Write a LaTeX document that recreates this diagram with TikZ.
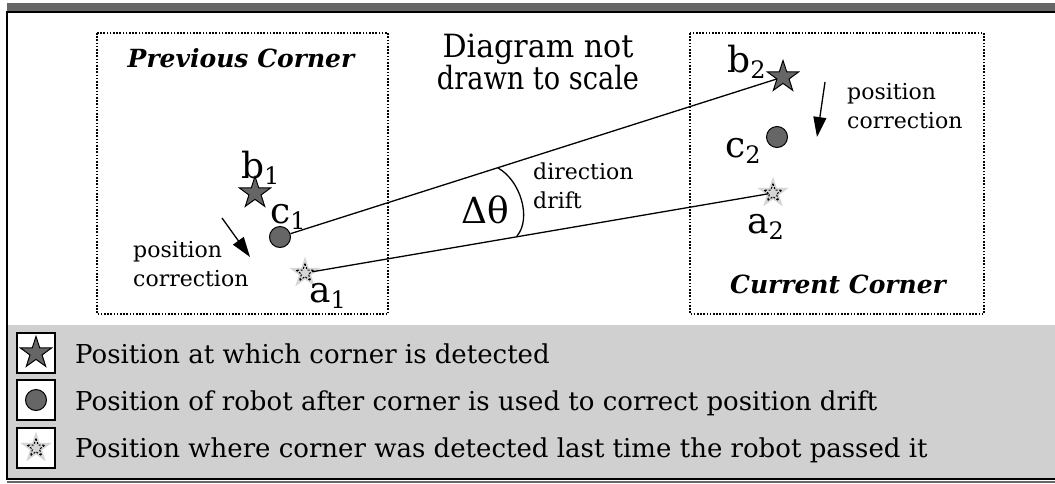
\documentclass[tikz,border=0pt]{standalone}
\usepackage{fontspec}
\setmainfont{DejaVu Serif}
\usetikzlibrary{shapes.geometric,arrows.meta}
\definecolor{dg}{HTML}{666666}
\definecolor{lg}{HTML}{D0D0D0}
\definecolor{sg}{HTML}{D6D6D6}
\newcommand\subs[1]{\raisebox{-6pt}{\fontsize{24}{24}\selectfont #1}}
\begin{document}
\begin{tikzpicture}[x=1pt,y=-1pt,
 cornerbox/.style={draw, line width=1.3pt, dash pattern=on 1.6pt off 1.6pt},
 darkstar/.style={star, star points=5, star point ratio=2.6, minimum size=33pt, inner sep=0pt, draw=black, line width=1pt, fill=dg},
 lightstar/.style={star, star points=5, star point ratio=2.6, minimum size=33pt, inner sep=0pt, fill=sg},
 innerstar/.style={star, star points=5, star point ratio=2.6, minimum size=19pt, inner sep=0pt, draw=black, line width=1pt, dash pattern=on 2pt off 1.5pt},
 robot/.style={circle, minimum size=21pt, inner sep=0pt, draw=black, line width=1pt, fill=dg},
 lbl/.style={font=\fontsize{36}{38}\selectfont, inner sep=0pt, anchor=base west},
 note/.style={font=\fontsize{22}{28.5}\selectfont, align=left, inner sep=0pt, anchor=west},
 title/.style={font=\fontsize{25}{28}\selectfont\bfseries\itshape, inner sep=0pt},
 legtext/.style={font=\fontsize{26}{28}\selectfont, anchor=base west, inner sep=0pt},
 legbox/.style={draw=black, line width=1.8pt, fill=white, minimum width=38pt, minimum height=40pt, inner sep=0pt},
 conn/.style={line width=1.3pt},
 corr/.style={line width=1.3pt, -{Triangle[length=20pt,width=13pt]}},
]
\useasboundingbox (0,0) rectangle (1055,483);
\fill[white] (0,0) rectangle (1055,483);
% frame
\fill[dg] (7,3) rectangle (1055,11);
\fill[lg] (7,325) rectangle (1055,478);
\draw[line width=2pt] (1055,12) -- (7,12) -- (7,479) -- (1055,479);
\fill[dg] (7,481) rectangle (1055,483);
% corner boxes
\draw[cornerbox] (97,33) rectangle (388,314);
\draw[cornerbox] (690,33) rectangle (984,314);
\node[title] (prev) at (241,58) {Previous Corner};
\node[title] (curr) at (838,284) {Current Corner};
\node[font=\fontsize{32}{32}\selectfont, align=center, inner sep=0pt] (scale) at (538,62) {\scalebox{0.94}[1]{Diagram not}\\\scalebox{0.85}[1]{drawn to scale}};
% previous corner
\node[darkstar] (b1) at (255,193) {};
\node[robot] (c1) at (280,237) {};
\node[lightstar] (a1) at (305,273) {};
\node[innerstar] (a1i) at (a1) {};
\node[lbl] (lb1) at (241,178) {b\subs{1}};
\node[lbl] (lc1) at (270,223) {c\subs{1}};
\node[lbl] (la1) at (309,302) {a\subs{1}};
\node[note] (pc1) at (133,264) {position\\correction};
\coordinate (ar1s) at (222,218);
\coordinate (ar1e) at (250,257);
\draw[corr] (ar1s) -- (ar1e);
% current corner
\node[darkstar] (b2) at (783,77) {};
\node[robot] (c2) at (777,137) {};
\node[lightstar] (a2) at (773,193) {};
\node[innerstar] (a2i) at (a2) {};
\node[lbl] (lb2) at (727,72) {b\subs{2}};
\node[lbl] (lc2) at (725,157) {c\subs{2}};
\node[lbl] (la2) at (747,233) {a\subs{2}};
\node[note] (pc2) at (847,106) {position\\correction};
\coordinate (ar2s) at (825,82);
\coordinate (ar2e) at (817,137);
\draw[corr] (ar2s) -- (ar2e);
% connectors
\draw[conn] (c1) -- (b2);
\draw[conn] (a1i) -- (a2i);
\coordinate (arcA) at (498,168);
\coordinate (arcB) at (517,236);
\draw[conn] (arcA) .. controls (520,180) and (532,218) .. (arcB);
\node[lbl] (dth) at (461,223) {Δθ};
\node[note] (dd) at (533,186) {direction\\drift};
% legend
\node[legbox] (k1) at (36,353) {};
\node[darkstar] (k1s) at (k1) {};
\node[legbox] (k2) at (36,400) {};
\node[robot] (k2c) at (k2) {};
\node[legbox] (k3) at (36,448) {};
\node[lightstar] (k3s) at (k3) {};
\node[innerstar] (k3i) at (k3) {};
\node[legtext] (t1) at (75,363) {Position at which corner is detected};
\node[legtext] (t2) at (75,410) {Position of robot after corner is used to correct position drift};
\node[legtext] (t3) at (75,457) {Position where corner was detected last time the robot passed it};
\end{tikzpicture}
\end{document}
